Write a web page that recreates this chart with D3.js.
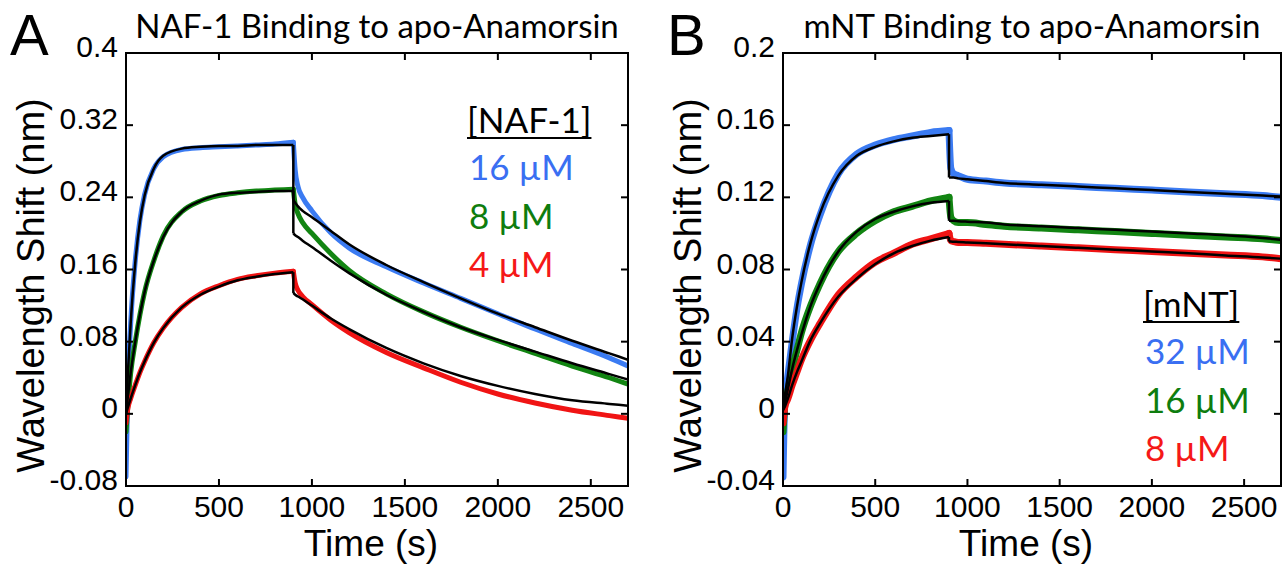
<!DOCTYPE html>
<html>
<head>
<meta charset="utf-8">
<script src="https://cdn.jsdelivr.net/npm/d3@7"></script>
<style>
  body { margin: 0; background: #fff; }
  svg { display: block; }
  .tick-label { font-family: "Liberation Sans", Arial, sans-serif; fill: #000; }
  .calib { font-family: Lato, "Noto Sans", sans-serif; }
</style>
</head>
<body>
<div id="chart"></div>
<script>
// time grids (s) shared by every trace
var timeAssoc = [0, 10, 25, 50, 75, 100, 150, 200, 300, 400, 500, 600, 700, 800, 900];
var timeDissoc = [900, 910, 925, 950, 1000, 1100, 1200, 1400, 1600, 1800, 2000, 2200, 2400, 2600, 2700];

// Panel A : NAF-1 binding (nm)
var nafBlueAssoc = [-0.07, 0.03, 0.10, 0.17, 0.215, 0.243, 0.272, 0.285, 0.293, 0.295, 0.296, 0.297, 0.298, 0.299, 0.301];
var nafBlueDissoc = [0.301, 0.27, 0.252, 0.24, 0.225, 0.201, 0.184, 0.163, 0.145, 0.128, 0.111, 0.094, 0.078, 0.062, 0.053];
var nafBlueFitAssoc = [0, 0.045, 0.10, 0.168, 0.213, 0.242, 0.272, 0.286, 0.294, 0.296, 0.297, 0.297, 0.298, 0.298, 0.298];
var nafBlueFitDissoc = [0.237, 0.234, 0.23, 0.225, 0.218, 0.203, 0.188, 0.165, 0.146, 0.128, 0.111, 0.096, 0.081, 0.067, 0.06];

var nafGreenAssoc = [-0.02, 0.01, 0.045, 0.08, 0.11, 0.135, 0.17, 0.197, 0.224, 0.236, 0.242, 0.245, 0.247, 0.248, 0.249];
var nafGreenDissoc = [0.249, 0.232, 0.222, 0.212, 0.2, 0.178, 0.159, 0.133, 0.113, 0.096, 0.081, 0.067, 0.053, 0.04, 0.033];
var nafGreenFitAssoc = [0, 0.019, 0.045, 0.08, 0.11, 0.135, 0.17, 0.196, 0.224, 0.236, 0.243, 0.245, 0.246, 0.247, 0.247];
var nafGreenFitDissoc = [0.2, 0.198, 0.196, 0.192, 0.185, 0.17, 0.156, 0.132, 0.113, 0.096, 0.082, 0.069, 0.056, 0.044, 0.038];

var nafRedAssoc = [-0.01, 0.006, 0.017, 0.032, 0.046, 0.058, 0.079, 0.095, 0.118, 0.133, 0.142, 0.149, 0.153, 0.156, 0.158];
var nafRedDissoc = [0.158, 0.145, 0.137, 0.13, 0.121, 0.104, 0.09, 0.068, 0.051, 0.035, 0.022, 0.012, 0.004, -0.002, -0.005];
var nafRedFitAssoc = [0, 0.007, 0.017, 0.032, 0.046, 0.058, 0.079, 0.095, 0.118, 0.132, 0.141, 0.148, 0.152, 0.155, 0.157];
var nafRedFitDissoc = [0.134, 0.132, 0.13, 0.127, 0.12, 0.106, 0.094, 0.073, 0.056, 0.042, 0.031, 0.022, 0.015, 0.011, 0.009];

// Panel B : mNT binding (nm)
var mntBlueAssoc = [-0.035, 0.008, 0.02, 0.04, 0.058, 0.072, 0.094, 0.11, 0.133, 0.144, 0.149, 0.152, 0.154, 0.156, 0.157];
var mntBlueDissoc = [0.157, 0.136, 0.133, 0.132, 0.130, 0.129, 0.128, 0.127, 0.126, 0.125, 0.124, 0.123, 0.122, 0.121, 0.12];
var mntBlueFitAssoc = [0.003, 0.01, 0.02, 0.042, 0.059, 0.073, 0.095, 0.111, 0.132, 0.143, 0.148, 0.151, 0.153, 0.154, 0.155];
var mntBlueFitDissoc = [0.131, 0.131, 0.131, 0.1305, 0.130, 0.129, 0.128, 0.127, 0.126, 0.125, 0.124, 0.123, 0.122, 0.121, 0.1205];

var mntGreenAssoc = [-0.01, 0.005, 0.012, 0.025, 0.035, 0.045, 0.06, 0.072, 0.09, 0.1, 0.107, 0.112, 0.115, 0.118, 0.12];
var mntGreenDissoc = [0.12, 0.109, 0.107, 0.106, 0.106, 0.105, 0.104, 0.103, 0.102, 0.101, 0.1, 0.099, 0.098, 0.097, 0.096];
var mntGreenFitAssoc = [0.002, 0.006, 0.013, 0.025, 0.035, 0.044, 0.06, 0.072, 0.09, 0.101, 0.108, 0.112, 0.115, 0.117, 0.118];
var mntGreenFitDissoc = [0.107, 0.107, 0.107, 0.1068, 0.1065, 0.106, 0.105, 0.104, 0.103, 0.102, 0.101, 0.1, 0.099, 0.0975, 0.0965];

var mntRedAssoc = [-0.005, 0.004, 0.008, 0.016, 0.023, 0.03, 0.041, 0.05, 0.066, 0.076, 0.084, 0.089, 0.094, 0.097, 0.1];
var mntRedDissoc = [0.1, 0.096, 0.0955, 0.095, 0.095, 0.0945, 0.094, 0.093, 0.092, 0.091, 0.09, 0.089, 0.088, 0.087, 0.086];
var mntRedFitAssoc = [0.002, 0.004, 0.008, 0.016, 0.023, 0.029, 0.041, 0.05, 0.065, 0.075, 0.083, 0.089, 0.093, 0.096, 0.098];
var mntRedFitDissoc = [0.0955, 0.0955, 0.0954, 0.0953, 0.095, 0.0945, 0.094, 0.093, 0.092, 0.091, 0.09, 0.089, 0.0878, 0.0867, 0.086];

// axis ticks and labels
var xTicks = [0, 500, 1000, 1500, 2000, 2500];
var yTicksA = [-0.08, 0, 0.08, 0.16, 0.24, 0.32, 0.4];
var yLabelsA = ["-0.08", "0", "0.08", "0.16", "0.24", "0.32", "0.4"];
var yTicksB = [-0.04, 0, 0.04, 0.08, 0.12, 0.16, 0.2];
var yLabelsB = ["-0.04", "0", "0.04", "0.08", "0.12", "0.16", "0.2"];

var legendA = ["16 \u00b5M", "8 \u00b5M", "4 \u00b5M"];
var legendB = ["32 \u00b5M", "16 \u00b5M", "8 \u00b5M"];

var colors = ["#3b7bf2", "#128512", "#f01414"];
var textColors = ["#3a6ff2", "#0e7d0e", "#f51818"];

var svg = d3.select("#chart").append("svg")
  .attr("width", 1287)
  .attr("height", 565);

function pairs(times, values) {
  return times.map(function(t, i) { return [t, values[i]]; });
}

function drawPanel(p) {
  var x = d3.scaleLinear().domain([0, 2700]).range([p.left, p.right]);
  var y = d3.scaleLinear().domain(p.yDomain).range([p.bottom, p.top]);
  var g = svg.append("g");

  var clipId = "clip" + p.letter;
  g.append("clipPath").attr("id", clipId)
    .append("rect")
    .attr("x", p.left).attr("y", p.top)
    .attr("width", p.right - p.left).attr("height", p.bottom - p.top);

  var line = d3.line().x(d => x(d[0])).y(d => y(d[1])).curve(d3.curveMonotoneX);
  var plot = g.append("g").attr("clip-path", "url(#" + clipId + ")");

  // noisy raw traces (association then dissociation)
  p.data.forEach(function(s, i) {
    [pairs(timeAssoc, s[0]), pairs(timeDissoc, s[1])].forEach(function(pts) {
      plot.append("path")
        .attr("d", line(pts))
        .attr("fill", "none")
        .attr("stroke", colors[i])
        .attr("stroke-width", p.dataWidth)
        .attr("stroke-linejoin", "round")
        .attr("stroke-linecap", "round");
    });
  });
  // black fits, with the jump at the start of dissociation
  p.fits.forEach(function(s) {
    plot.append("path")
      .attr("d", line(pairs(timeAssoc, s[0])))
      .attr("fill", "none").attr("stroke", "#000").attr("stroke-width", 2.5);
    plot.append("path")
      .attr("d", line(pairs(timeDissoc, s[1])))
      .attr("fill", "none").attr("stroke", "#000").attr("stroke-width", 2.5);
    plot.append("line")
      .attr("x1", x(timeDissoc[0])).attr("x2", x(timeDissoc[0]))
      .attr("y1", y(s[0][s[0].length - 1])).attr("y2", y(s[1][0]))
      .attr("stroke", "#000").attr("stroke-width", 2.5);
  });

  // frame with inward ticks on all sides
  g.append("rect")
    .attr("x", p.left).attr("y", p.top)
    .attr("width", p.right - p.left).attr("height", p.bottom - p.top)
    .attr("fill", "none").attr("stroke", "#000").attr("stroke-width", 2);

  var tickLen = 7;
  xTicks.forEach(function(v) {
    g.append("line").attr("x1", x(v)).attr("x2", x(v))
      .attr("y1", p.bottom).attr("y2", p.bottom - tickLen)
      .attr("stroke", "#000").attr("stroke-width", 2);
    g.append("line").attr("x1", x(v)).attr("x2", x(v))
      .attr("y1", p.top).attr("y2", p.top + tickLen)
      .attr("stroke", "#000").attr("stroke-width", 2);
    g.append("text").attr("class", "tick-label")
      .attr("x", x(v)).attr("y", 517)
      .attr("text-anchor", "middle")
      .style("font-size", "30px")
      .text(v);
  });
  p.yTicks.forEach(function(v, i) {
    g.append("line").attr("x1", p.left).attr("x2", p.left + tickLen)
      .attr("y1", y(v)).attr("y2", y(v))
      .attr("stroke", "#000").attr("stroke-width", 2);
    g.append("line").attr("x1", p.right).attr("x2", p.right - tickLen)
      .attr("y1", y(v)).attr("y2", y(v))
      .attr("stroke", "#000").attr("stroke-width", 2);
    g.append("text").attr("class", "tick-label")
      .attr("x", p.left - 8).attr("y", y(v) + 4)
      .attr("text-anchor", "end")
      .style("font-size", "30px")
      .text(p.yLabels[i]);
  });

  // axis titles
  g.append("text").attr("class", "tick-label")
    .attr("x", (p.left + p.right) / 2 - 6).attr("y", 556)
    .attr("text-anchor", "middle")
    .style("font-size", "37px")
    .text("Time (s)");
  g.append("text").attr("class", "tick-label")
    .attr("transform", "translate(" + (p.left - 82) + "," + ((p.top + p.bottom) / 2 + 16) + ") rotate(-90)")
    .attr("text-anchor", "middle")
    .style("font-size", "38px")
    .text("Wavelength Shift (nm)");

  // panel letter and title
  g.append("text").attr("class", "tick-label")
    .attr("x", p.left - 116).attr("y", 55)
    .style("font-size", "58px")
    .text(p.letter);
  g.append("text").attr("class", "calib")
    .attr("x", (p.left + p.right) / 2).attr("y", 38)
    .attr("text-anchor", "middle")
    .style("font-size", "33px")
    .text(p.title);

  // legend
  var head = g.append("text").attr("class", "calib")
    .attr("x", p.legX).attr("y", p.legY)
    .style("font-size", "35px")
    .text(p.legTitle);
  var w = head.node().getComputedTextLength();
  g.append("line")
    .attr("x1", p.legX).attr("x2", p.legX + w)
    .attr("y1", p.legY + 5).attr("y2", p.legY + 5)
    .attr("stroke", "#000").attr("stroke-width", 2);
  p.legend.forEach(function(txt, i) {
    g.append("text").attr("class", "calib")
      .attr("x", p.legX + 2).attr("y", p.legY + 47 + i * 48.5)
      .style("font-size", "35px")
      .attr("fill", textColors[i])
      .text(txt);
  });
}

drawPanel({
  letter: "A", title: "NAF-1 Binding to apo-Anamorsin",
  left: 126, right: 628, top: 53, bottom: 486,
  yDomain: [-0.08, 0.4], yTicks: yTicksA, yLabels: yLabelsA,
  dataWidth: 5,
  data: [[nafBlueAssoc, nafBlueDissoc], [nafGreenAssoc, nafGreenDissoc], [nafRedAssoc, nafRedDissoc]],
  fits: [[nafBlueFitAssoc, nafBlueFitDissoc], [nafGreenFitAssoc, nafGreenFitDissoc], [nafRedFitAssoc, nafRedFitDissoc]],
  legTitle: "[NAF-1]", legend: legendA, legX: 467, legY: 133
});

drawPanel({
  letter: "B", title: "mNT Binding to apo-Anamorsin",
  left: 783, right: 1281, top: 53, bottom: 486,
  yDomain: [-0.04, 0.2], yTicks: yTicksB, yLabels: yLabelsB,
  dataWidth: 7,
  data: [[mntBlueAssoc, mntBlueDissoc], [mntGreenAssoc, mntGreenDissoc], [mntRedAssoc, mntRedDissoc]],
  fits: [[mntBlueFitAssoc, mntBlueFitDissoc], [mntGreenFitAssoc, mntGreenFitDissoc], [mntRedFitAssoc, mntRedFitDissoc]],
  legTitle: "[mNT]", legend: legendB, legX: 1143, legY: 317
});
</script>
</body>
</html>
